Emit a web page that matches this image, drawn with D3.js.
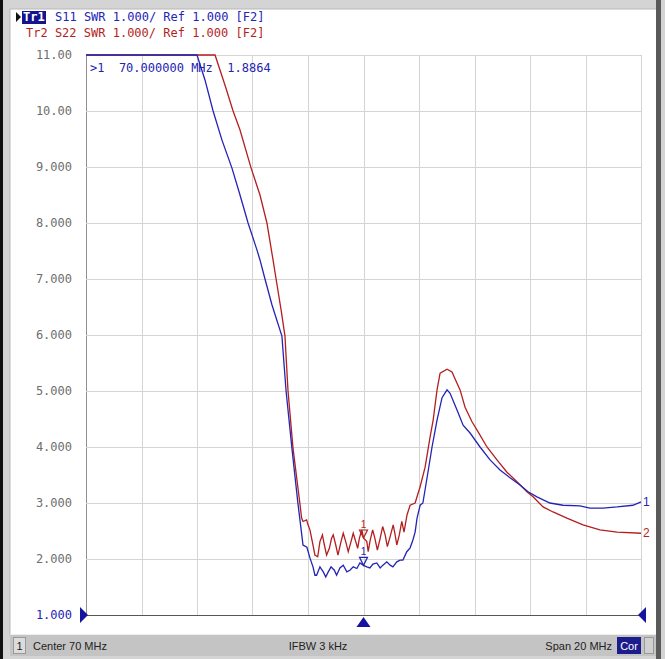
<!DOCTYPE html>
<html>
<head>
<meta charset="utf-8">
<script src="https://cdn.jsdelivr.net/npm/d3@7"></script>
<style>
body { margin: 0; background: #fff; }
svg { display: block; }
</style>
</head>
<body>
<svg id="chart" width="665" height="659"></svg>
<script>
// Sweep settings: center 70 MHz, span 20 MHz
let freqStart = 60;
let freqStop = 80;
let freqTicks = [60, 62, 64, 66, 68, 70, 72, 74, 76, 78, 80];
let swrTicks = [11, 10, 9, 8, 7, 6, 5, 4, 3, 2, 1];
let swrTickLabels = ["11.00", "10.00", "9.000", "8.000", "7.000", "6.000", "5.000", "4.000", "3.000", "2.000", "1.000"];

// Tr1 S11 SWR
let freqS11 = [60, 62, 63.5, 64.00, 64.29, 64.58, 64.90, 65.26, 65.55, 65.84, 66.16, 66.27, 66.45, 66.70, 67.06,
    67.21, 67.42, 67.64, 67.71, 67.82, 67.96, 68.07, 68.18, 68.25,
    68.31, 68.43, 68.55, 68.64, 68.73, 68.83, 68.95, 69.03, 69.15, 69.27, 69.40, 69.51, 69.63, 69.76, 69.87,
    70.00, 70.12, 70.23, 70.34, 70.48, 70.60, 70.70, 70.84, 70.96, 71.06, 71.20, 71.32, 71.42,
    71.56, 71.68, 71.78, 71.86, 71.93, 72.04, 72.14, 72.32, 72.47, 72.65, 72.83, 73.01, 73.12,
    73.37, 73.59, 73.84, 74.20, 74.56, 74.92, 75.28, 75.64, 75.93, 76.25, 76.72, 77.19, 77.80,
    78.16, 78.63, 79.14, 79.71, 80.00];
let swrS11 = [13.5, 12.5, 11.3, 11.00, 10.55, 10.00, 9.48, 8.98, 8.50, 8.00, 7.52, 7.34, 7.00, 6.54, 5.98,
    5.00, 3.98, 2.98, 2.70, 2.25, 2.21, 2.02, 1.86, 1.71,
    1.71, 1.86, 1.77, 1.68, 1.77, 1.86, 1.80, 1.71, 1.84, 1.89, 1.77, 1.80, 1.86, 1.83, 1.93,
    1.8864, 1.86, 1.84, 1.91, 1.93, 1.84, 1.89, 1.95, 1.89, 1.86, 1.95, 1.98, 1.98,
    2.13, 2.20, 2.34, 2.48, 2.73, 2.96, 3.00, 3.54, 4.00, 4.48, 4.88, 5.02, 4.96,
    4.66, 4.39, 4.25, 4.00, 3.77, 3.59, 3.45, 3.32, 3.20, 3.11, 3.00, 2.96, 2.95,
    2.91, 2.91, 2.93, 2.96, 3.02];

// Tr2 S22 SWR
let freqS22 = [60, 63, 64.3, 64.65, 65.01, 65.30, 65.55, 65.95, 66.27, 66.52, 66.74, 66.85, 67.03, 67.17,
    67.28, 67.46, 67.71, 67.77, 67.82, 67.95, 68.00, 68.07, 68.18, 68.25,
    68.35, 68.43, 68.52, 68.59, 68.67, 68.77, 68.85, 68.91, 69.00, 69.08, 69.19, 69.27, 69.36, 69.45,
    69.55, 69.63, 69.72, 69.79, 69.85, 69.94, 70.00, 70.12, 70.17, 70.23, 70.33, 70.41, 70.50, 70.60,
    70.69, 70.78, 70.86, 70.96, 71.07, 71.14, 71.20, 71.29, 71.38, 71.46, 71.57, 71.68, 71.86,
    72.04, 72.22, 72.40, 72.51, 72.65, 72.76, 73.01, 73.19, 73.37, 73.48, 73.66, 73.91, 74.13,
    74.45, 74.81, 75.17, 75.53, 75.89, 76.11, 76.47, 76.83, 77.33, 77.91, 78.52, 79.14, 80.00];
let swrS22 = [14.0, 12.3, 11.4, 11.00, 10.46, 10.00, 9.66, 8.98, 8.50, 8.00, 7.34, 7.00, 6.45, 5.98,
    5.00, 3.98, 2.98, 2.73, 2.67, 2.70, 2.61, 2.52, 2.25, 2.07,
    2.04, 2.31, 2.43, 2.25, 2.07, 2.19, 2.37, 2.43, 2.25, 2.07, 2.31, 2.46, 2.31, 2.13,
    2.31, 2.46, 2.31, 2.19, 2.37, 2.52, 2.375, 2.31, 2.13, 2.31, 2.52, 2.37, 2.16, 2.37,
    2.58, 2.43, 2.22, 2.40, 2.61, 2.43, 2.25, 2.43, 2.67, 2.48, 2.79, 2.96, 3.00,
    3.29, 3.64, 4.18, 4.48, 5.02, 5.32, 5.39, 5.34, 5.14, 5.02, 4.71, 4.45, 4.27,
    4.00, 3.77, 3.55, 3.38, 3.20, 3.11, 2.93, 2.84, 2.73, 2.61, 2.52, 2.48, 2.46];

let markerFreq = 70;
let markerS11 = 1.8864;
let markerS22 = 2.375;

let blue = "#2424b4";
let red = "#b41e1e";
let mono = "'DejaVu Sans Mono', monospace";
let sans = "'Liberation Sans', Arial, sans-serif";

let svg = d3.select("#chart");

let x = d3.scaleLinear().domain([freqStart, freqStop]).range([86, 641]);
let y = d3.scaleLinear().domain([1, 11]).range([615, 55]).clamp(true);


function drawFrame() {
    svg.append("rect").attr("width", 665).attr("height", 659).attr("fill", "#d4d4d4");
    svg.append("rect").attr("x", 0).attr("y", 0).attr("width", 3).attr("height", 659).attr("fill", "#111");
    svg.append("rect").attr("x", 10).attr("y", 9).attr("width", 647).attr("height", 626)
        .attr("fill", "#fff").attr("stroke", "#b8b8b8");
    svg.append("rect").attr("x", 656).attr("y", 0).attr("width", 5).attr("height", 659).attr("fill", "#5a5a5a");

    // status bar
    let bar = svg.append("g");
    bar.append("rect").attr("x", 10).attr("y", 634).attr("width", 646).attr("height", 22).attr("fill", "#c4c4c4");
    bar.append("line").attr("x1", 10).attr("x2", 656).attr("y1", 634.5).attr("y2", 634.5).attr("stroke", "#eee");
    bar.append("rect").attr("x", 13.5).attr("y", 637.5).attr("width", 12).attr("height", 16)
        .attr("fill", "#dcdcdc").attr("stroke", "#999");
    bar.append("text").attr("x", 19.5).attr("y", 650).attr("text-anchor", "middle").text("1");
    bar.append("text").attr("x", 33).attr("y", 650).text("Center 70 MHz");
    bar.append("text").attr("x", 318).attr("y", 650).attr("text-anchor", "middle").text("IFBW 3 kHz");
    bar.append("text").attr("x", 612).attr("y", 650).attr("text-anchor", "end").text("Span 20 MHz");
    bar.append("rect").attr("x", 617).attr("y", 637).attr("width", 24).attr("height", 17).attr("fill", "#1c1c8c");
    bar.append("text").attr("x", 629).attr("y", 650).attr("text-anchor", "middle").attr("fill", "#fff").text("Cor");
    bar.append("rect").attr("x", 644.5).attr("y", 637.5).attr("width", 9).attr("height", 16)
        .attr("fill", "#d0d0d0").attr("stroke", "#999");
    bar.selectAll("text").attr("font-family", sans).attr("font-size", 11).filter(function () {
        return !d3.select(this).attr("fill");
    }).attr("fill", "#222");
}


function drawGrid() {
    let grid = svg.append("g");
    grid.selectAll("line.v")
        .data(freqTicks)
        .enter()
        .append("line")
        .attr("x1", d => Math.round(x(d)) + 0.5)
        .attr("x2", d => Math.round(x(d)) + 0.5)
        .attr("y1", y(11))
        .attr("y2", y(1))
        .attr("stroke", d => (d === freqStart ? "#909090" : "#d4d4d4"));
    grid.selectAll("line.h")
        .data(swrTicks)
        .enter()
        .append("line")
        .attr("x1", x(freqStart))
        .attr("x2", x(freqStop))
        .attr("y1", d => Math.round(y(d)) + 0.5)
        .attr("y2", d => Math.round(y(d)) + 0.5)
        .attr("stroke", d => (d === 1 ? "#555" : "#d4d4d4"))
        .attr("stroke-width", d => (d === 1 ? 1.2 : 1));

    svg.append("g")
        .selectAll("text")
        .data(swrTicks)
        .enter()
        .append("text")
        .attr("x", 72)
        .attr("y", d => y(d) + 4)
        .attr("text-anchor", "end")
        .attr("font-family", mono)
        .attr("font-size", 12)
        .attr("fill", d => (d === 1 ? blue : "#6e6e6e"))
        .text((d, i) => swrTickLabels[i]);
}


function drawTrace(freqs, values, color, label) {
    let pts = freqs.map((f, i) => [f, values[i]]);
    let line = d3.line().x(d => x(d[0])).y(d => y(d[1]));
    svg.append("path")
        .datum(pts)
        .attr("fill", "none")
        .attr("stroke", color)
        .attr("stroke-width", 1.3)
        .attr("d", line);
    let last = pts[pts.length - 1];
    svg.append("text")
        .attr("x", x(last[0]) + 2)
        .attr("y", y(last[1]) + 4)
        .attr("font-family", sans)
        .attr("font-size", 12)
        .attr("fill", color)
        .text(label);
}


function drawMarker(value, color) {
    let mx = x(markerFreq);
    let my = y(value);
    let g = svg.append("g");
    g.append("path")
        .attr("d", `M${mx - 4},${my - 8}L${mx + 4},${my - 8}L${mx},${my}Z`)
        .attr("fill", "none")
        .attr("stroke", color)
        .attr("stroke-width", 1.2);
    g.append("text")
        .attr("x", mx)
        .attr("y", my - 10)
        .attr("text-anchor", "middle")
        .attr("font-family", sans)
        .attr("font-size", 10)
        .attr("fill", color)
        .text("1");
}


function drawHeader() {
    svg.append("path").attr("d", "M16,12L21,17L16,22Z").attr("fill", "#111");
    svg.append("rect").attr("x", 22).attr("y", 11).attr("width", 24).attr("height", 13).attr("fill", "#14148c");
    svg.append("text").attr("x", 23).attr("y", 21).attr("fill", "#fff").attr("font-weight", "bold").text("Tr1");
    svg.append("text").attr("x", 55).attr("y", 21).attr("fill", blue).text("S11 SWR 1.000/ Ref 1.000 [F2]");
    svg.append("text").attr("x", 26).attr("y", 37).attr("fill", red).text("Tr2 S22 SWR 1.000/ Ref 1.000 [F2]");

    // marker readout
    svg.append("text").attr("x", 90).attr("y", 72).attr("fill", blue)
        .attr("xml:space", "preserve").text(">1  70.000000 MHz  1.8864");
    svg.selectAll("text").filter(function () { return !d3.select(this).attr("font-family"); })
        .attr("font-family", mono).attr("font-size", 12).style("white-space", "pre");
}


function drawRefMarkers() {
    let ry = y(1);
    svg.append("path").attr("d", `M80,${ry - 8}L88,${ry}L80,${ry + 8}Z`).attr("fill", "#1414a0");
    svg.append("path").attr("d", `M646,${ry - 8}L638,${ry}L646,${ry + 8}Z`).attr("fill", "#1414a0");
    let cx = x(markerFreq);
    svg.append("path").attr("d", `M${cx - 7},${ry + 12}L${cx + 7},${ry + 12}L${cx},${ry + 2}Z`).attr("fill", "#1414a0");
}


drawFrame();
drawGrid();
drawTrace(freqS22, swrS22, red, "2");
drawTrace(freqS11, swrS11, blue, "1");
drawMarker(markerS22, red);
drawMarker(markerS11, blue);
drawRefMarkers();
drawHeader();
</script>
</body>
</html>
